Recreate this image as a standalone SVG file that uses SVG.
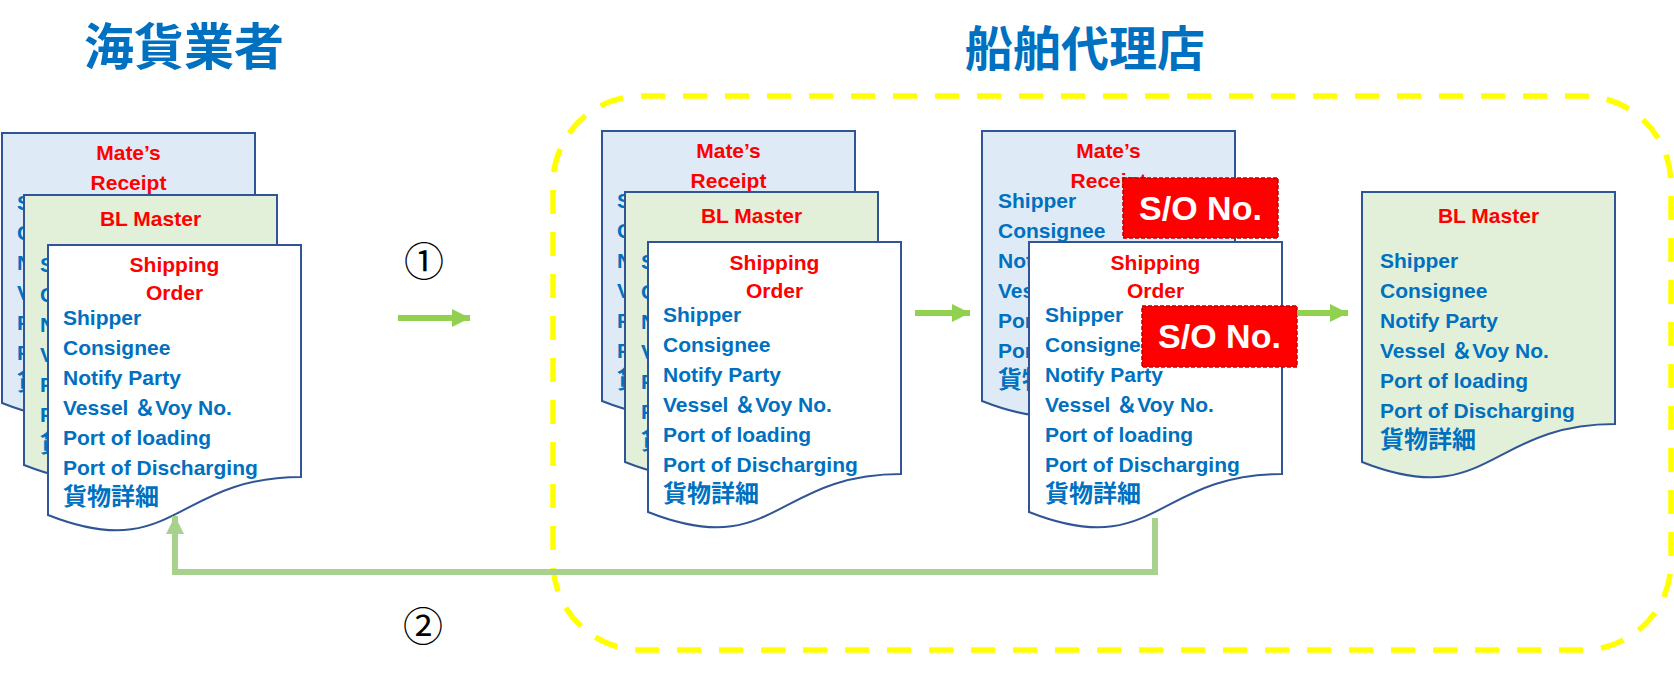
<svg xmlns="http://www.w3.org/2000/svg" width="1674" height="675" viewBox="0 0 1674 675">
<style>
.doc{stroke:#2F5597;stroke-width:2}
.mr{fill:#DEEBF7}.bl{fill:#E2F0D9}.so{fill:#FFFFFF}
.hd{font-family:"Liberation Sans","Noto Sans CJK JP",sans-serif;font-weight:bold;font-size:21px;fill:#FF0000;text-anchor:middle}
.tx{font-family:"Liberation Sans","Noto Sans CJK JP",sans-serif;font-weight:bold;font-size:21px;fill:#0070C0}
.jp{font-family:"Noto Sans CJK JP",sans-serif;font-weight:bold;font-size:24px;fill:#0070C0}
.title{font-family:"Noto Sans CJK JP",sans-serif;font-weight:bold;fill:#0070C0}
.num{font-family:"Noto Sans CJK JP",sans-serif;font-size:40px;fill:#000;text-anchor:middle}
.sob{fill:#FF0000;stroke:#C00000;stroke-width:1.5;stroke-dasharray:4 2}
.sot{font-family:"Liberation Sans",sans-serif;font-weight:bold;font-size:34px;fill:#FFFFFF;text-anchor:middle}
.a1{stroke:#92D050;stroke-width:6;fill:none}
.a2{stroke:#A9D18E;stroke-width:6;fill:none}
</style>
<defs>
<path id="docshape" d="M0,0 H253 V232 C126.5,232 126.5,320 0,270 Z"/>
<marker id="h1" markerUnits="userSpaceOnUse" markerWidth="20" markerHeight="20" refX="18" refY="9" orient="auto"><path d="M0,0 L18,9 L0,18 Z" fill="#92D050"/></marker>
<marker id="h2" markerUnits="userSpaceOnUse" markerWidth="20" markerHeight="20" refX="18" refY="9" orient="auto"><path d="M0,0 L18,9 L0,18 Z" fill="#A9D18E"/></marker>
</defs>

<!-- frame -->
<rect id="agent-frame" x="553" y="96" width="1118" height="554" rx="88" ry="88" fill="none" stroke="#FFFF00" stroke-width="5.5" stroke-dasharray="24 18"/>

<g id="title-forwarder"><text class="title" x="84" y="65" font-size="50">海貨業者</text></g>
<g id="title-agent"><text class="title" x="965" y="66" font-size="48">船舶代理店</text></g>

<!-- left group -->
<g id="left-mates" transform="translate(2,133)">
<use href="#docshape" class="doc mr"/>
<text class="hd" x="126.5" y="27">Mate’s</text><text class="hd" x="126.5" y="57">Receipt</text>
<text class="tx" x="15" y="77">Shipper</text><text class="tx" x="15" y="107">Consignee</text><text class="tx" x="15" y="137">Notify Party</text><text class="tx" x="15" y="167">Vessel ＆Voy No.</text><text class="tx" x="15" y="197">Port of loading</text><text class="tx" x="15" y="227">Port of Discharging</text><text class="jp" x="15" y="257">貨物詳細</text>
</g>
<g id="left-bl" transform="translate(24,195)">
<use href="#docshape" class="doc bl"/>
<text class="hd" x="126.5" y="31">BL Master</text>
<text class="tx" x="16" y="77">Shipper</text><text class="tx" x="16" y="107">Consignee</text><text class="tx" x="16" y="137">Notify Party</text><text class="tx" x="16" y="167">Vessel ＆Voy No.</text><text class="tx" x="16" y="197">Port of loading</text><text class="tx" x="16" y="227">Port of Discharging</text><text class="jp" x="16" y="257">貨物詳細</text>
</g>
<g id="left-so" transform="translate(48,245)">
<use href="#docshape" class="doc so"/>
<text class="hd" x="126.5" y="27">Shipping</text><text class="hd" x="126.5" y="55">Order</text>
<text class="tx" x="15" y="80">Shipper</text><text class="tx" x="15" y="110">Consignee</text><text class="tx" x="15" y="140">Notify Party</text><text class="tx" x="15" y="170">Vessel ＆Voy No.</text><text class="tx" x="15" y="200">Port of loading</text><text class="tx" x="15" y="230">Port of Discharging</text><text class="jp" x="15" y="260">貨物詳細</text>
</g>

<!-- middle group -->
<g id="mid-mates" transform="translate(602,131)">
<use href="#docshape" class="doc mr"/>
<text class="hd" x="126.5" y="27">Mate’s</text><text class="hd" x="126.5" y="57">Receipt</text>
<text class="tx" x="15" y="77">Shipper</text><text class="tx" x="15" y="107">Consignee</text><text class="tx" x="15" y="137">Notify Party</text><text class="tx" x="15" y="167">Vessel ＆Voy No.</text><text class="tx" x="15" y="197">Port of loading</text><text class="tx" x="15" y="227">Port of Discharging</text><text class="jp" x="15" y="257">貨物詳細</text>
</g>
<g id="mid-bl" transform="translate(625,192)">
<use href="#docshape" class="doc bl"/>
<text class="hd" x="126.5" y="31">BL Master</text>
<text class="tx" x="16" y="77">Shipper</text><text class="tx" x="16" y="107">Consignee</text><text class="tx" x="16" y="137">Notify Party</text><text class="tx" x="16" y="167">Vessel ＆Voy No.</text><text class="tx" x="16" y="197">Port of loading</text><text class="tx" x="16" y="227">Port of Discharging</text><text class="jp" x="16" y="257">貨物詳細</text>
</g>
<g id="mid-so" transform="translate(648,242)">
<use href="#docshape" class="doc so"/>
<text class="hd" x="126.5" y="28">Shipping</text><text class="hd" x="126.5" y="56">Order</text>
<text class="tx" x="15" y="80">Shipper</text><text class="tx" x="15" y="110">Consignee</text><text class="tx" x="15" y="140">Notify Party</text><text class="tx" x="15" y="170">Vessel ＆Voy No.</text><text class="tx" x="15" y="200">Port of loading</text><text class="tx" x="15" y="230">Port of Discharging</text><text class="jp" x="15" y="260">貨物詳細</text>
</g>

<!-- third group -->
<g id="third-mates" transform="translate(982,131)">
<use href="#docshape" class="doc mr"/>
<text class="hd" x="126.5" y="27">Mate’s</text><text class="hd" x="126.5" y="57">Receipt</text>
<text class="tx" x="16" y="77">Shipper</text><text class="tx" x="16" y="107">Consignee</text><text class="tx" x="16" y="137">Notify Party</text><text class="tx" x="16" y="167">Vessel ＆Voy No.</text><text class="tx" x="16" y="197">Port of loading</text><text class="tx" x="16" y="227">Port of Discharging</text><text class="jp" x="16" y="257">貨物詳細</text>
</g>
<g id="third-so" transform="translate(1029,242)">
<use href="#docshape" class="doc so"/>
<text class="hd" x="126.5" y="28">Shipping</text><text class="hd" x="126.5" y="56">Order</text>
<text class="tx" x="16" y="80">Shipper</text><text class="tx" x="16" y="110">Consignee</text><text class="tx" x="16" y="140">Notify Party</text><text class="tx" x="16" y="170">Vessel ＆Voy No.</text><text class="tx" x="16" y="200">Port of loading</text><text class="tx" x="16" y="230">Port of Discharging</text><text class="jp" x="16" y="260">貨物詳細</text>
</g>
<g id="so-no-1"><rect class="sob" x="1123" y="178" width="155" height="60"/><text class="sot" x="1200.5" y="220">S/O No.</text></g>
<g id="so-no-2"><rect class="sob" x="1142" y="306" width="155" height="61"/><text class="sot" x="1219.5" y="348">S/O No.</text></g>

<!-- right BL -->
<g id="right-bl" transform="translate(1362,192)">
<use href="#docshape" class="doc bl"/>
<text class="hd" x="126.5" y="31">BL Master</text>
<text class="tx" x="18" y="76">Shipper</text><text class="tx" x="18" y="106">Consignee</text><text class="tx" x="18" y="136">Notify Party</text><text class="tx" x="18" y="166">Vessel ＆Voy No.</text><text class="tx" x="18" y="196">Port of loading</text><text class="tx" x="18" y="226">Port of Discharging</text><text class="jp" x="18" y="256">貨物詳細</text>
</g>

<!-- connectors -->
<g id="connectors">
<line class="a1" x1="398" y1="318" x2="470" y2="318" marker-end="url(#h1)"/>
<line class="a1" x1="915" y1="313" x2="970" y2="313" marker-end="url(#h1)"/>
<line class="a1" x1="1297" y1="313" x2="1348" y2="313" marker-end="url(#h1)"/>
<path class="a2" d="M1155,518 V572 H175 V516" marker-end="url(#h2)"/>
</g>

<g id="label-1"><text class="num" x="424" y="276">①</text></g>
<g id="label-2"><text class="num" x="423" y="641">②</text></g>
</svg>
